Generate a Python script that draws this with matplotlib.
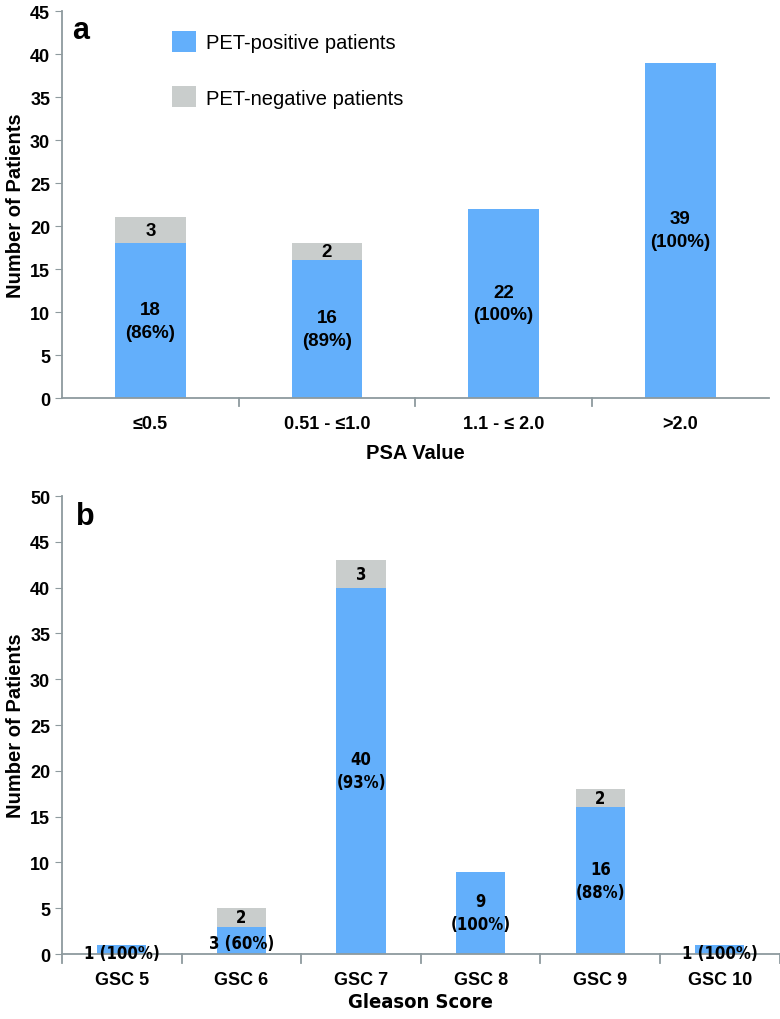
import matplotlib.pyplot as plt
import numpy as np

# panel a: PSA value
psa_cats = ['≤0.5', '0.51 - ≤1.0', '1.1 - ≤ 2.0', '>2.0']
psa_pos = [18, 16, 22, 39]
psa_neg = [3, 2, 0, 0]
psa_pct = ['86%', '89%', '100%', '100%']

# panel b: Gleason score
gsc_cats = ['GSC 5', 'GSC 6', 'GSC 7', 'GSC 8', 'GSC 9', 'GSC 10']
gsc_pos = [1, 3, 40, 9, 16, 1]
gsc_neg = [0, 2, 3, 0, 2, 0]
gsc_pct = ['100%', '60%', '93%', '100%', '88%', '100%']

blue = '#63AFFB'
grey = '#C9CDCC'
spine_col = '#8E9A9E'

plt.rcParams['font.family'] = ['Liberation Sans', 'DejaVu Sans']
cond = dict(family=['DejaVu Sans'], stretch='condensed', weight='bold')

fig = plt.figure(figsize=(7.8, 10.2), dpi=100)
ax1 = fig.add_axes([0.0795, 0.6088, 0.906, 0.3794])
ax2 = fig.add_axes([0.0795, 0.0637, 0.920, 0.4490])


def style_axis(ax, ymax, step):
    for s in ['top', 'right']:
        ax.spines[s].set_visible(False)
    for s in ['left', 'bottom']:
        ax.spines[s].set_color(spine_col)
        ax.spines[s].set_linewidth(1.3)
    ax.set_ylim(0, ymax)
    ax.set_yticks(np.arange(0, ymax + 1, step))
    ax.tick_params(axis='y', colors=spine_col, length=5, labelcolor='black')
    ax.tick_params(axis='x', length=0, pad=12, labelcolor='black')
    for lab in ax.get_yticklabels():
        lab.set_fontweight('bold')
        lab.set_fontsize(13)


# ---- panel a
x1 = np.arange(len(psa_cats))
ax1.bar(x1, psa_pos, width=0.4, color=blue, label='PET-positive patients')
ax1.bar(x1, psa_neg, width=0.4, bottom=psa_pos, color=grey, label='PET-negative patients')
ax1.set_xlim(-0.5, len(psa_cats) - 0.5)
ax1.set_xticks(x1)
ax1.set_xticklabels(psa_cats, fontsize=13, fontweight='bold')
style_axis(ax1, 45, 5)
# tick marks between categories
for b in np.arange(0.5, len(psa_cats) - 0.5, 1):
    ax1.plot([b, b], [0, -0.9], color=spine_col, lw=1.3, clip_on=False)
for i in range(len(psa_cats)):
    ax1.text(x1[i], psa_pos[i] / 2, f'{psa_pos[i]}\n({psa_pct[i]})', ha='center', va='center',
             fontsize=13.5, fontweight='bold', linespacing=1.45)
    if psa_neg[i]:
        ax1.text(x1[i], psa_pos[i] + psa_neg[i] / 2, str(psa_neg[i]), ha='center', va='center',
                 fontsize=13.5, fontweight='bold')
ax1.set_xlabel('PSA Value', fontsize=14.5, fontweight='bold', labelpad=8)
ax1.set_ylabel('Number of Patients', fontsize=14.5, fontweight='bold', labelpad=4)
ax1.text(0.015, 0.99, 'a', transform=ax1.transAxes, fontsize=22, fontweight='bold', va='top')
ax1.legend(loc='upper left', bbox_to_anchor=(0.13, 0.995), frameon=False, fontsize=14.5,
           handlelength=1.2, handleheight=1.2, labelspacing=1.7, handletextpad=0.5)

# ---- panel b
x2 = np.arange(len(gsc_cats))
ax2.bar(x2, gsc_pos, width=0.41, color=blue)
ax2.bar(x2, gsc_neg, width=0.41, bottom=gsc_pos, color=grey)
ax2.set_xlim(-0.5, len(gsc_cats) - 0.5)
ax2.set_xticks(x2)
ax2.set_xticklabels(gsc_cats, fontsize=13, fontweight='bold')
style_axis(ax2, 50, 5)
for b in np.arange(-0.5, len(gsc_cats), 1):
    ax2.plot([b, b], [0, -1.0], color=spine_col, lw=1.3, clip_on=False)
for i in range(len(gsc_cats)):
    if gsc_pos[i] < 5:
        # short bars: one-line label sitting low on the bar
        txt = f'{gsc_pos[i]} ({gsc_pct[i]})'
        y = gsc_pos[i] * 0.4 if gsc_pos[i] > 1 else 0.1
    else:
        txt = f'{gsc_pos[i]}\n({gsc_pct[i]})'
        y = gsc_pos[i] / 2
    ax2.text(x2[i], y, txt, ha='center', va='center', fontsize=12, linespacing=1.35, **cond)
    if gsc_neg[i]:
        ax2.text(x2[i], gsc_pos[i] + gsc_neg[i] / 2, str(gsc_neg[i]), ha='center', va='center',
                 fontsize=12, **cond)
ax2.set_xlabel('Gleason Score', fontsize=14.5, labelpad=3, **cond)
ax2.set_ylabel('Number of Patients', fontsize=14.5, fontweight='bold', labelpad=4)
ax2.text(0.02, 0.99, 'b', transform=ax2.transAxes, fontsize=22, fontweight='bold', va='top')

fig.savefig('out.png', dpi=100)
